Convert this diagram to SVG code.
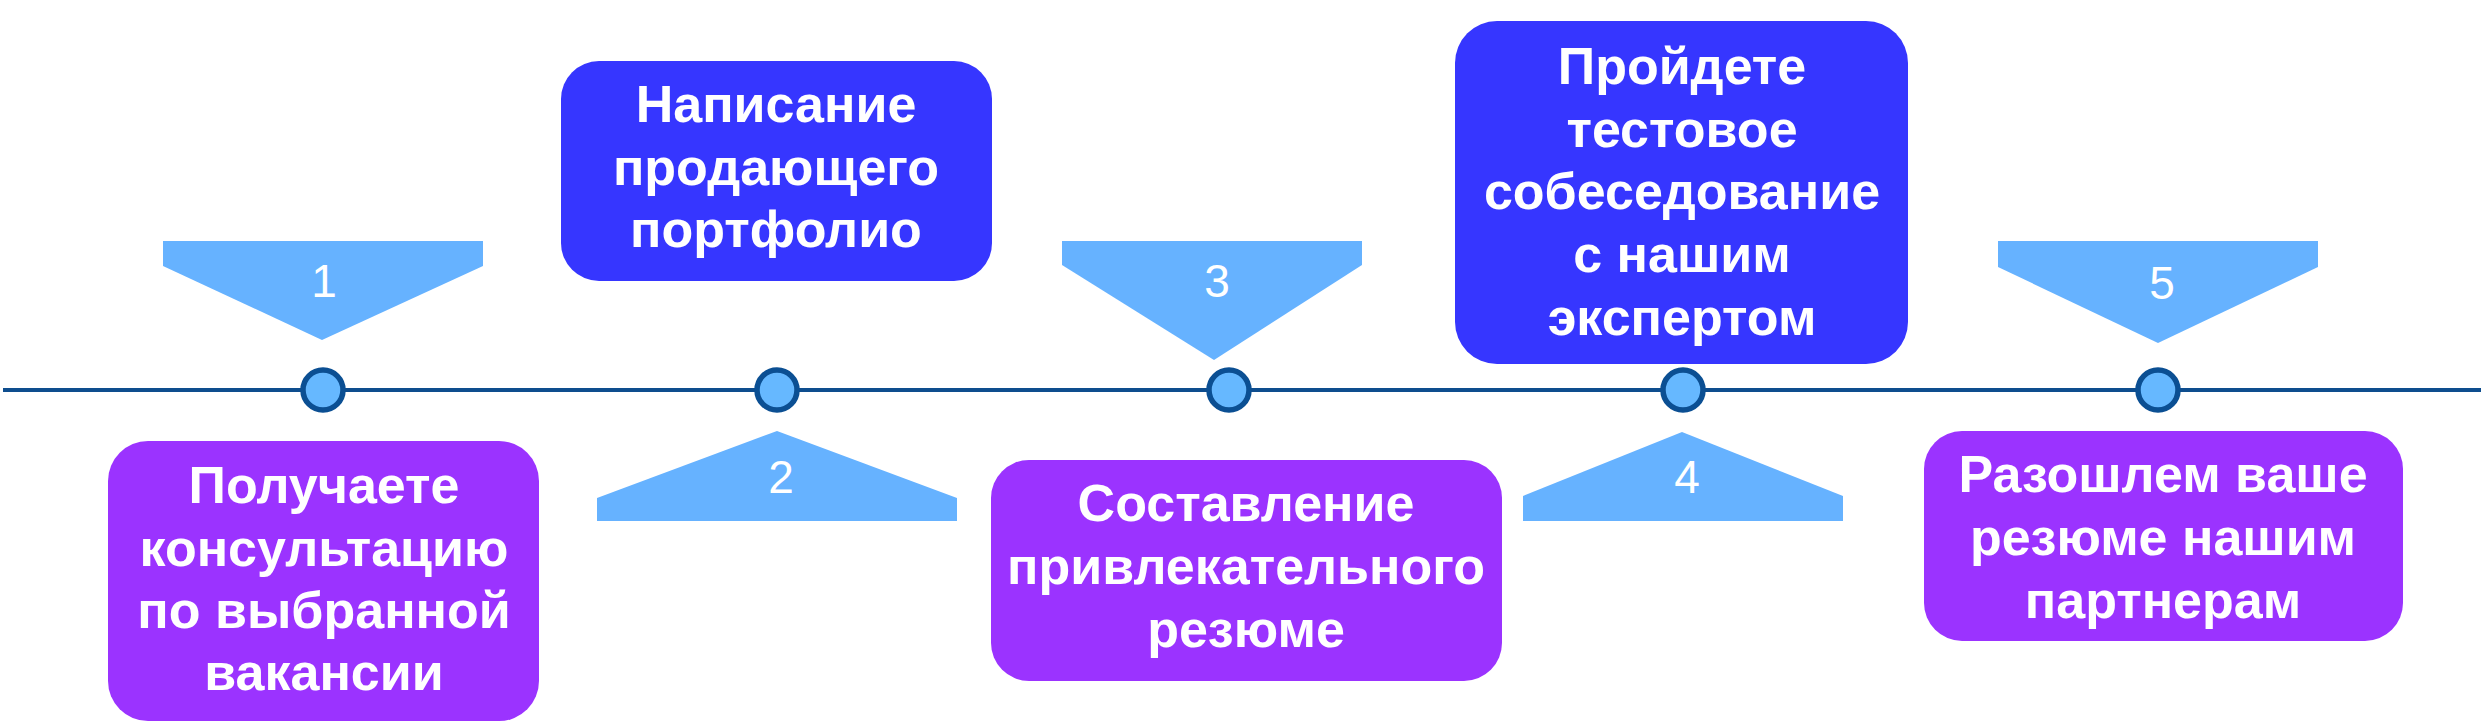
<svg xmlns="http://www.w3.org/2000/svg" width="2484" height="724" viewBox="0 0 2484 724">
<style>
.bg{fill:#ffffff}
.blue{fill:#3636FF}
.purple{fill:#9B33FF}
.tri{fill:#66B2FF}
.dot{fill:#66B8FF;stroke:#0B4F93;stroke-width:5.5}
.axis{stroke:#0E4D8E;stroke-width:4;fill:none}
.lbl{font-family:"Liberation Sans",Arial,sans-serif;font-weight:bold;font-size:52px;fill:#ffffff;text-anchor:middle}
.num{font-family:"Liberation Sans",Arial,sans-serif;font-size:46px;fill:#ffffff;text-anchor:middle}
</style>
<rect class="bg" x="0" y="0" width="2484" height="724"/>
<g id="connectors">
<line class="axis" x1="3" y1="390" x2="2481" y2="390"/>
</g>
<g id="marker1">
<polygon class="tri" points="163,241 483,241 483,266 322,340 163,266"/>
<text class="num" x="324" y="297">1</text>
<circle class="dot" cx="323" cy="390" r="20"/>
</g>
<g id="marker2">
<polygon class="tri" points="597,521 957,521 957,498 777,431 597,498"/>
<text class="num" x="781" y="493">2</text>
<circle class="dot" cx="777" cy="390" r="20"/>
</g>
<g id="marker3">
<polygon class="tri" points="1062,241 1362,241 1362,265 1214,360 1062,265"/>
<text class="num" x="1217" y="297">3</text>
<circle class="dot" cx="1229" cy="390" r="20"/>
</g>
<g id="marker4">
<polygon class="tri" points="1523,521 1843,521 1843,496 1682,432 1523,496"/>
<text class="num" x="1687" y="493">4</text>
<circle class="dot" cx="1683" cy="390" r="20"/>
</g>
<g id="marker5">
<polygon class="tri" points="1998,241 2318,241 2318,267 2158,343 1998,267"/>
<text class="num" x="2162" y="299">5</text>
<circle class="dot" cx="2158" cy="390" r="20"/>
</g>
<g id="step1">
<rect class="purple" x="108" y="441" width="431" height="280" rx="40" ry="40"/>
<text class="lbl"><tspan x="324" y="503">Получаете</tspan><tspan x="324" y="566">консультацию</tspan><tspan x="324" y="628">по выбранной</tspan><tspan x="324" y="690">вакансии</tspan></text>
</g>
<g id="step2">
<rect class="blue" x="561" y="61" width="431" height="220" rx="38" ry="38"/>
<text class="lbl"><tspan x="776" y="122">Написание</tspan><tspan x="776" y="185">продающего</tspan><tspan x="776" y="247">портфолио</tspan></text>
</g>
<g id="step3">
<rect class="purple" x="991" y="460" width="511" height="221" rx="38" ry="38"/>
<text class="lbl"><tspan x="1246" y="521">Составление</tspan><tspan x="1246" y="584">привлекательного</tspan><tspan x="1246" y="647">резюме</tspan></text>
</g>
<g id="step4">
<rect class="blue" x="1455" y="21" width="453" height="343" rx="42" ry="42"/>
<text class="lbl"><tspan x="1682" y="84">Пройдете</tspan><tspan x="1682" y="147">тестовое</tspan><tspan x="1682" y="209">собеседование</tspan><tspan x="1682" y="272">с нашим</tspan><tspan x="1682" y="335">экспертом</tspan></text>
</g>
<g id="step5">
<rect class="purple" x="1924" y="431" width="479" height="210" rx="38" ry="38"/>
<text class="lbl"><tspan x="2163" y="492">Разошлем ваше</tspan><tspan x="2163" y="555">резюме нашим</tspan><tspan x="2163" y="618">партнерам</tspan></text>
</g>
</svg>
